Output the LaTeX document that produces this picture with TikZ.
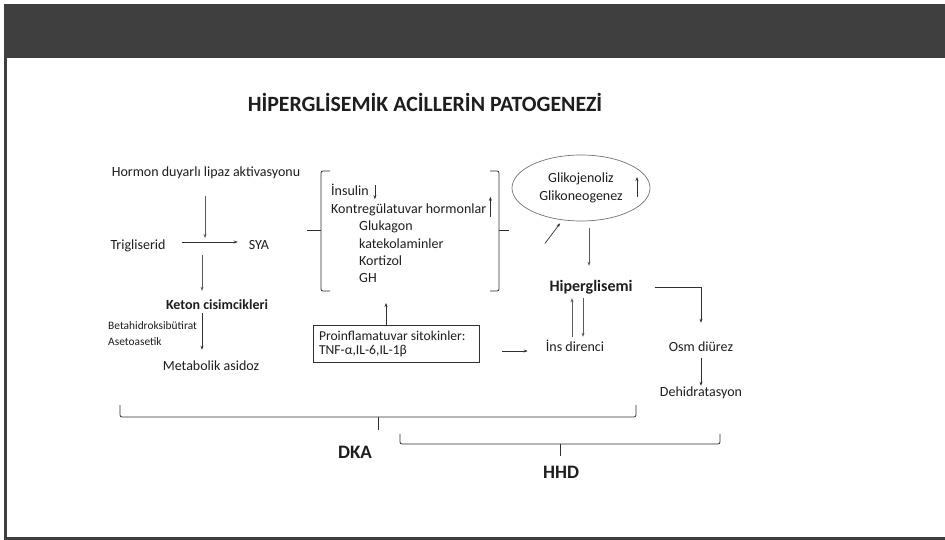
\documentclass[tikz,border=0pt]{standalone}
\usepackage{fontspec}
\setmainfont{Carlito}
\usetikzlibrary{arrows.meta,shapes.geometric}

\definecolor{band}{HTML}{3F3F3F}
\definecolor{ink}{HTML}{1E1E1E}
\definecolor{wire}{HTML}{303030}

\tikzset{
  txt/.style={inner sep=0pt, text=ink, text height=10.5pt, text depth=3.5pt,
    font=\fontsize{14}{17}\selectfont},
  smalltxt/.style={inner sep=0pt, text=ink, text height=8.5pt, text depth=3pt,
    font=\fontsize{11.4}{13}\selectfont},
  boldtxt/.style={inner sep=0pt, text=ink, text height=10.5pt, text depth=3.5pt,
    font=\fontsize{14}{17}\selectfont\bfseries},
  bigtxt/.style={inner sep=0pt, text=ink, font=\fontsize{19}{22}\selectfont\bfseries},
  conn/.style={draw=wire, line width=0.7pt, -{Stealth[length=4pt,width=3pt]}},
  thinconn/.style={draw=wire!80, line width=0.55pt, -{Stealth[length=4pt,width=3pt]}},
  bracketline/.style={draw=wire, line width=0.8pt, rounded corners=2pt},
}

\begin{document}
\begin{tikzpicture}[x=1pt,y=-1pt]
  % page frame
  \useasboundingbox (0,0) rectangle (945,540);
  \fill[white] (0,0) rectangle (945,540);
  \fill[band] (4,4) rectangle (945,58.5);
  \draw[band, line width=3pt] (5.5,58.5) -- (5.5,538.5);
  \draw[band, line width=2.5pt] (4,538.5) -- (945,538.5);

  % title
  \node[inner sep=0pt, text=ink, font=\fontsize{21.8}{26}\selectfont\bfseries] (title) at (425,102)
    {HİPERGLİSEMİK ACİLLERİN PATOGENEZİ};

  % lipolysis column
  \node[txt] (hormon) at (206,173) {Hormon duyarlı lipaz aktivasyonu};
  \node[txt] (trig) at (138,246) {Trigliserid};
  \node[txt] (sya) at (259,246) {SYA};
  \node[boldtxt] (keton) at (217,306) {Keton cisimcikleri};
  \node[smalltxt, anchor=west] (beta) at (108,327) {Betahidroksibütirat};
  \node[smalltxt, anchor=west] (aseto) at (108,343) {Asetoasetik};
  \node[txt] (meta) at (211,367) {Metabolik asidoz};

  \coordinate (lipo) at (202,242);
  \draw[conn, shorten <=16pt, shorten >=11pt] ([yshift=4pt]trig.east) -- ([yshift=4pt]sya.west);
  \draw[thinconn, shorten <=16pt, shorten >=4pt] (hormon.south -| 205,0) -- (205,242);
  \draw[thinconn, shorten <=13pt, shorten >=8pt] (lipo) -- (lipo |- keton.north);
  \draw[conn, shorten >=10pt] (lipo |- keton.south) -- (lipo |- meta.north);

  % hormone bracket
  \draw[bracketline] (330,171) -- (321,171) -- (321,291) -- (330,291);
  \draw[bracketline] (307,230) -- (321,230);
  \draw[bracketline] (490,171) -- (499,171) -- (499,291) -- (490,291);
  \draw[bracketline] (499,230) -- (509,230);
  \coordinate (brbot) at (386,291);

  \node[txt, anchor=west] (ins) at (331,192) {İnsulin};
  \node[txt, anchor=west] (kontr) at (331,210) {Kontregülatuvar hormonlar};
  \node[txt, anchor=west] (gluk) at (359,227) {Glukagon};
  \node[txt, anchor=west] (kate) at (359,245) {katekolaminler};
  \node[txt, anchor=west] (kort) at (359,262) {Kortizol};
  \node[txt, anchor=west] (gh) at (359,279) {GH};
  \draw[conn] ([xshift=6pt]ins.north east) -- ([xshift=6pt]ins.south east);
  \draw[conn] ([xshift=4pt]kontr.south east) -- ([xshift=4pt,yshift=6pt]kontr.north east);

  % cytokines
  \node[draw=wire, line width=0.7pt, minimum width=166pt, minimum height=37pt,
        inner xsep=6pt, inner ysep=0pt, text width=154pt, align=left, text=ink,
        font=\fontsize{13.6}{14}\selectfont] (pro) at (396,343.5)
    {Proinflamatuvar\hspace{-1.5pt} sitokinler:\\TNF-α,IL-6,IL-1β};
  \draw[conn, shorten >=12pt] ([xshift=-10pt]pro.north) -- ([xshift=-10pt]pro.north |- brbot);

  % glucose side
  \node[ellipse, draw=black!55, line width=0.7pt, minimum width=138pt, minimum height=66pt,
        inner sep=0pt, align=center, text=ink, font=\fontsize{14}{18}\selectfont] (glik) at (581,188)
    {Glikojenoliz\\Glikoneogenez};
  \draw[conn] ([shift={(56,9)}]glik.center) -- ([shift={(56,-11)}]glik.center);
  \draw[conn, shorten >=4pt] ([shift={(-17.5,23.4)}]glik.240) -- (glik.240);

  \node[inner sep=0pt, text=ink, text height=12pt, text depth=4pt,
        font=\fontsize{16}{19}\selectfont\bfseries] (hiper) at (591,287) {Hiperglisemi};
  \node[txt] (insdir) at (575,348) {İns direnci};
  \node[txt] (osm) at (701,348) {Osm diürez};
  \node[txt] (dehid) at (701,393) {Dehidratasyon};

  \draw[thinconn, shorten <=7pt, shorten >=13pt] (glik.south -| 589,0) -- (589,287 |- hiper.north);
  \draw[conn, shorten >=18pt] ([xshift=22pt]hiper.east) -| (osm.north);
  \draw[thinconn, shorten <=4pt, shorten >=3pt] ([xshift=-3pt]insdir.north) -- ([xshift=-3pt]insdir.north |- hiper.south);
  \draw[thinconn, shorten <=3pt, shorten >=4pt] ([xshift=8pt]insdir.north |- hiper.south) -- ([xshift=8pt]insdir.north);
  \draw[conn, shorten <=3pt] (osm.south) -- (dehid.north);
  \draw[conn, shorten <=23pt, shorten >=18pt] ([yshift=-3pt]pro.east |- insdir.west) -- ([yshift=-3pt]insdir.west);

  % grouping braces
  \draw[bracketline] (120,405) -- (120,417) -- (636,417) -- (636,405);
  \draw[bracketline] (378,417) -- (378,430);
  \draw[bracketline] (400,434) -- (400,444) -- (720,444) -- (720,434);
  \draw[bracketline] (560,444) -- (560,456);
  \node[bigtxt] (dka) at (355,452) {DKA};
  \node[bigtxt] (hhd) at (561,472) {HHD};
\end{tikzpicture}
\end{document}
